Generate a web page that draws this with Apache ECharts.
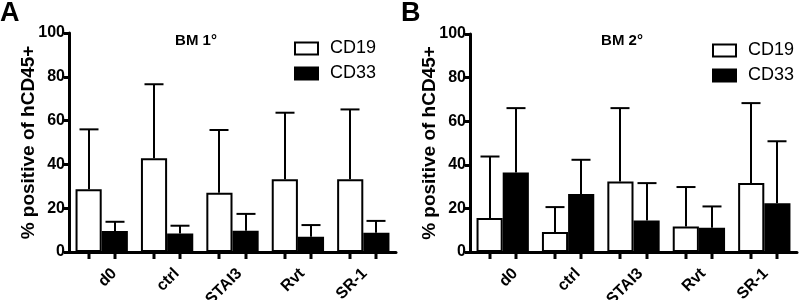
<!DOCTYPE html>
<html><head><meta charset="utf-8">
<script src="https://cdn.jsdelivr.net/npm/echarts@6/dist/echarts.min.js"></script>
<style>html,body{margin:0;padding:0;background:#fff}#c{width:802px;height:300px}</style>
</head><body><div id="c"></div>
<script>
const categories = ['d0', 'ctrl', 'STAI3', 'Rvt', 'SR-1'];
const yTicks = [0, 20, 40, 60, 80, 100];
// Panel A (BM 1°): means and upper error bar ends
const a_cd19 = [28.6, 42.8, 27.1, 33.2, 33.2];
const a_cd19_err = [56.0, 76.6, 55.7, 63.6, 65.1];
const a_cd33 = [9.6, 8.4, 9.7, 7.0, 8.8];
const a_cd33_err = [13.8, 12.0, 17.4, 12.3, 14.2];
// Panel B (BM 2°)
const b_cd19 = [15.6, 9.2, 32.3, 11.7, 31.6];
const b_cd19_err = [43.8, 20.6, 66.0, 29.8, 68.3];
const b_cd33 = [36.5, 26.6, 14.5, 11.1, 22.4];
const b_cd33_err = [66.0, 42.3, 31.6, 20.9, 50.8];

const FONT = 'Liberation Sans, Arial, sans-serif';

function errData(m19, e19, m33, e33) {
  const d = [];
  categories.forEach((c, i) => {
    d.push([i, m19[i], e19[i], 0]);
    d.push([i, m33[i], e33[i], 1]);
  });
  return d;
}

function renderErr(params, api) {
  const ci = api.value(0), mean = api.value(1), up = api.value(2), s = api.value(3);
  const c = api.coord([ci, 0]);
  const band = api.size([1, 0])[0];
  const bw = band * 0.4;
  const x = Math.round(c[0] + (s === 0 ? -bw / 2 : bw / 2));
  const y0 = c[1];
  const ym = api.coord([ci, mean])[1];
  const yu = api.coord([ci, up])[1];
  const half = 9.5;
  const st = {stroke: '#000', lineWidth: 2};
  return {type: 'group', children: [
    {type: 'line', shape: {x1: x, y1: ym, x2: x, y2: yu}, style: st},
    {type: 'line', shape: {x1: x - half, y1: yu, x2: x + half, y2: yu}, style: st},
    {type: 'line', shape: {x1: x, y1: y0, x2: x, y2: y0 + 7}, style: {stroke: '#000', lineWidth: 3}}
  ]};
}

function xAxis(gi) {
  return {
    type: 'category', gridIndex: gi, data: categories,
    axisLine: {lineStyle: {color: '#000', width: 3}},
    axisTick: {show: false},
    axisLabel: {show: false}
  };
}
// label-only axis (labels in the original sit slightly right of the bar groups)
function xLabelAxis(gi) {
  return {
    type: 'category', gridIndex: gi, data: categories,
    axisLine: {show: false}, axisTick: {show: false}, splitLine: {show: false},
    axisLabel: {rotate: 45, margin: 19, color: '#000', fontWeight: 'bold', fontSize: 16, fontFamily: FONT, interval: 0}
  };
}
function yAxis(gi) {
  return {
    type: 'value', gridIndex: gi, min: yTicks[0], max: yTicks[yTicks.length - 1], interval: 20,
    name: '% positive of hCD45+', nameLocation: 'middle', nameGap: 31, nameMoveOverlap: false,
    nameTextStyle: {color: '#000', fontWeight: 'bold', fontSize: 19, fontFamily: FONT},
    axisLine: {show: true, lineStyle: {color: '#000', width: 3}},
    axisTick: {show: true, length: 5, lineStyle: {color: '#000', width: 3}},
    splitLine: {show: false},
    axisLabel: {color: '#000', fontWeight: 'bold', fontSize: 16, fontFamily: FONT, margin: 4}
  };
}
function yHidden(gi) {
  return {type: 'value', gridIndex: gi, min: 0, max: 100, show: false};
}
function bars(gi, m19, m33) {
  return [
    {name: 'CD19', type: 'bar', xAxisIndex: gi, yAxisIndex: gi, data: m19, barGap: '0%', barCategoryGap: '20%',
     itemStyle: {color: '#fff', borderColor: '#000', borderWidth: 2}, z: 2},
    {name: 'CD33', type: 'bar', xAxisIndex: gi, yAxisIndex: gi, data: m33, barGap: '0%', barCategoryGap: '20%',
     itemStyle: {color: '#000', borderColor: '#000', borderWidth: 2}, z: 2}
  ];
}
function legend(left, top) {
  return {
    data: [{name: 'CD19', itemStyle: {color: '#fff', borderColor: '#000', borderWidth: 2}},
           {name: 'CD33', itemStyle: {color: '#000', borderColor: '#000', borderWidth: 2}}],
    orient: 'vertical', left: left, top: top, padding: 0, itemWidth: 23, itemHeight: 12, itemGap: 6, icon: 'rect',
    selectedMode: false,
    textStyle: {color: '#000', fontSize: 18, fontFamily: FONT, lineHeight: 19, padding: [0, 0, 0, 7]}
  };
}

const gridBase = {top: 33, bottom: 48, containLabel: false, outerBoundsMode: 'none'};
const chart = echarts.init(document.getElementById('c'), null, {renderer: 'canvas'});
chart.setOption({
  animation: false,
  backgroundColor: '#fff',
  title: [
    {text: 'A', left: 0, top: 0, padding: 0, textStyle: {fontSize: 27, fontWeight: 'bold', color: '#000', fontFamily: FONT}},
    {text: 'B', left: 401, top: 0, padding: 0, textStyle: {fontSize: 27, fontWeight: 'bold', color: '#000', fontFamily: FONT}},
    {text: 'BM 1°', left: 191, top: 28, textAlign: 'center', textStyle: {fontSize: 15, fontWeight: 'bold', color: '#000', fontFamily: FONT}},
    {text: 'BM 2°', left: 617, top: 28, textAlign: 'center', textStyle: {fontSize: 15, fontWeight: 'bold', color: '#000', fontFamily: FONT}}
  ],
  legend: [legend(294, 39), legend(712, 41)],
  grid: [
    Object.assign({}, gridBase, {left: 69, width: 327}),
    Object.assign({}, gridBase, {left: 470, top: 34, width: 327}),
    Object.assign({}, gridBase, {left: 83, width: 313}),
    Object.assign({}, gridBase, {left: 484, top: 34, width: 313})
  ],
  xAxis: [xAxis(0), xAxis(1), xLabelAxis(2), xLabelAxis(3)],
  yAxis: [yAxis(0), yAxis(1), yHidden(2), yHidden(3)],
  series: [
    ...bars(0, a_cd19, a_cd33),
    ...bars(1, b_cd19, b_cd33),
    {type: 'custom', xAxisIndex: 0, yAxisIndex: 0, data: errData(a_cd19, a_cd19_err, a_cd33, a_cd33_err),
     renderItem: renderErr, z: 3, clip: false, encode: {x: 0, y: [1, 2]}, silent: true},
    {type: 'custom', xAxisIndex: 1, yAxisIndex: 1, data: errData(b_cd19, b_cd19_err, b_cd33, b_cd33_err),
     renderItem: renderErr, z: 3, clip: false, encode: {x: 0, y: [1, 2]}, silent: true}
  ]
});
</script></body></html>
